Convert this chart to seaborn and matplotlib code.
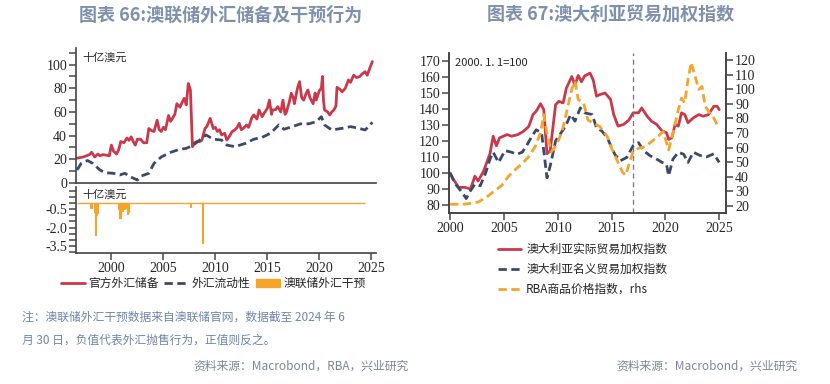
import numpy as np
import pandas as pd
import matplotlib
matplotlib.use("Agg")
import matplotlib.pyplot as plt
from matplotlib.patches import Patch
from matplotlib.lines import Line2D
import seaborn as sns

sns.set_style("ticks")
plt.rcParams['font.family'] = ['Noto Sans CJK SC', 'DejaVu Sans']

# ---------- left chart: RBA FX reserves ----------
res_year = [1996.7, 1997.0, 1997.3, 1997.6, 1997.9, 1998.1, 1998.4, 1998.7, 1998.9, 1999.2,
            1999.5, 1999.8, 2000.0, 2000.2, 2000.5, 2000.7, 2000.9, 2001.2, 2001.5, 2001.7,
            2001.9, 2002.1, 2002.3, 2002.5, 2002.8, 2003.1, 2003.4, 2003.6, 2003.9, 2004.1,
            2004.4, 2004.6, 2004.8, 2005.0, 2005.2, 2005.5, 2005.7, 2005.9, 2006.1, 2006.3,
            2006.6, 2006.8, 2007.0, 2007.2, 2007.4, 2007.6, 2007.8, 2008.0, 2008.2, 2008.5,
            2008.7, 2009.0, 2009.2, 2009.5, 2009.8, 2010.0, 2010.2, 2010.4, 2010.6, 2010.9,
            2011.1, 2011.4, 2011.6, 2011.9, 2012.1, 2012.3, 2012.5, 2012.7, 2013.0, 2013.2,
            2013.5, 2013.7, 2014.0, 2014.2, 2014.5, 2014.7, 2015.0, 2015.2, 2015.4, 2015.5,
            2015.8, 2016.0, 2016.3, 2016.5, 2016.7, 2016.8, 2017.1, 2017.3, 2017.5, 2017.6,
            2017.9, 2018.1, 2018.3, 2018.5, 2018.7, 2018.9, 2019.1, 2019.4, 2019.6, 2019.7,
            2020.0, 2020.2, 2020.3, 2020.4, 2020.5, 2020.8, 2021.0, 2021.2, 2021.4, 2021.6,
            2021.7, 2022.0, 2022.2, 2022.5, 2022.8, 2023.0, 2023.3, 2023.6, 2023.9, 2024.1,
            2024.4, 2024.6, 2024.9, 2025.1]
reserves = [21, 21.5, 22, 23, 24, 26, 22, 24.5, 23, 24,
            23.5, 23, 32, 27, 24.5, 28, 35, 34, 38, 36,
            39, 35, 32, 37, 37, 34, 34, 46, 44, 43.5,
            53, 45, 43.5, 47, 45, 57, 52, 55, 58, 67,
            64, 68, 71.5, 66, 84, 78.6, 30.7, 34, 35, 35,
            36, 46, 48, 54.6, 46, 47, 43.5, 45, 40.6, 42,
            36.3, 40, 43.4, 45, 47, 50.4, 45, 46.2, 49, 47,
            55, 57.5, 54, 61.7, 56, 59, 63, 70, 58, 61.7,
            62, 64.5, 60, 70, 58, 59, 68, 75.8, 72, 67,
            80, 85.6, 72, 70, 75, 78.6, 72, 67, 76, 70,
            78, 80, 90, 70, 61.7, 60, 57.5, 60, 61.7, 65,
            80.8, 79, 77, 80, 87, 85, 91, 89, 90, 92,
            94, 91, 98, 102.5]

liq_year = [1996.7, 1997.1, 1997.7, 1998.2, 1998.9, 1999.4, 2000.2, 2000.8, 2001.3, 2001.8,
            2002.5, 2002.9, 2003.6, 2004.1, 2004.8, 2005.6, 2006.4, 2007.2, 2007.8, 2008.5,
            2009.1, 2009.8, 2010.6, 2011.1, 2011.9, 2012.9, 2013.7, 2014.5, 2015.3, 2016.1,
            2016.6, 2017.4, 2018.2, 2019.0, 2019.7, 2020.2, 2020.5, 2021.2, 2022.2, 2023.0,
            2023.8, 2024.4, 2024.8, 2025.1]
liquidity = [11, 16.6, 19, 16.6, 11, 8.7, 8.2, 6.8, 8.2, 5.4,
             2.5, 6, 8.2, 16.6, 22, 25.6, 28, 29.3, 31.5, 36.3,
             40.6, 37, 36.3, 32, 30.7, 33.5, 37, 38.6, 42, 49,
             45.4, 47.6, 50, 50, 51.8, 56, 49, 44.8, 46.2, 47.6,
             46.2, 44.8, 48, 51.3]

int_year = [1997.96, 1998.04, 1998.38, 1998.46, 1998.54, 1998.63, 2000.67, 2000.75, 2000.83, 2000.92,
            2001.0, 2001.08, 2001.17, 2001.25, 2001.33, 2001.5, 2001.58, 2001.67, 2007.58, 2008.79]
intervention = [-0.2, -0.35, -0.7, -2.6, -1.0, -0.8, -0.5, -0.9, -1.2, -0.6,
                -0.4, -0.6, -0.3, -0.5, -0.3, -0.4, -0.9, -0.7, -0.3, -3.3]
int_span = [1996.7, 2024.4]

# ---------- right chart: trade weighted indices ----------
twi_year = [2000.0, 2000.3, 2000.8, 2001.4, 2001.9, 2002.3, 2002.6, 2003.1, 2003.4, 2003.7,
            2004.0, 2004.3, 2004.6, 2005.3, 2005.7, 2006.3, 2006.8, 2007.3, 2007.7, 2008.0,
            2008.4, 2008.7, 2009.0, 2009.3, 2009.8, 2010.1, 2010.5, 2010.8, 2011.3, 2011.6,
            2011.9, 2012.2, 2012.5, 2013.0, 2013.3, 2013.6, 2013.9, 2014.4, 2014.9, 2015.2,
            2015.6, 2016.1, 2016.6, 2017.0, 2017.5, 2017.8, 2018.3, 2018.7, 2019.2, 2019.7,
            2020.1, 2020.3, 2020.6, 2020.9, 2021.2, 2021.5, 2021.8, 2022.1, 2022.6, 2023.1,
            2023.5, 2024.0, 2024.5, 2024.8, 2025.0]
real_twi = [100, 96, 91, 91, 90, 98, 95, 101, 106.5, 112,
            123, 117, 122, 124, 123, 124, 126, 129, 136.5, 138.6,
            143.3, 139.6, 112, 114, 142.7, 144.8, 143.8, 153, 160.3, 155,
            161, 157, 160.7, 162.4, 158, 148, 149, 150, 146, 136.5,
            129.3, 130.3, 133, 137.6, 137.6, 140.7, 135.5, 132.4, 130.3, 126.2,
            125.2, 121, 122, 130.3, 129.3, 137.6, 136.5, 131.4, 134.5, 136.5,
            135.5, 136.5, 141.7, 141.7, 139.6]

nom_year = [2000.0, 2000.5, 2001.1, 2001.5, 2001.9, 2002.3, 2002.8, 2003.3, 2003.7, 2004.0,
            2004.5, 2005.1, 2005.7, 2006.2, 2006.7, 2007.1, 2007.6, 2008.0, 2008.5, 2009.0,
            2009.3, 2009.8, 2010.2, 2010.7, 2011.2, 2011.6, 2012.1, 2012.5, 2013.2, 2013.6,
            2014.1, 2014.6, 2015.0, 2015.3, 2015.8, 2016.4, 2017.0, 2017.5, 2018.0, 2018.6,
            2019.2, 2019.7, 2020.1, 2020.3, 2020.7, 2021.2, 2021.7, 2022.1, 2022.6, 2023.2,
            2023.8, 2024.5, 2025.0]
nominal_twi = [100, 93, 88, 84, 89, 93, 92, 100, 108.6, 113,
               106.6, 114, 113, 111.7, 113, 117, 123, 127, 125, 97,
               104.5, 120, 124, 129, 136.5, 132.4, 140.7, 137.6, 136.5, 128.3,
               126.2, 122, 116, 111.7, 107.6, 109.7, 117, 119, 113.8, 110.7,
               108.6, 106.6, 105.5, 98.3, 108.6, 113, 111.7, 106.6, 113, 111,
               110, 112, 106.6]

com_year = [2000.0, 2001.1, 2001.7, 2002.6, 2003.4, 2004.2, 2004.8, 2005.4, 2006.0, 2006.7,
            2007.3, 2007.9, 2008.4, 2008.7, 2009.0, 2009.4, 2009.9, 2010.4, 2010.8, 2011.3,
            2011.6, 2011.9, 2012.4, 2012.8, 2013.3, 2013.9, 2014.6, 2015.0, 2015.5, 2016.0,
            2016.3, 2016.6, 2017.0, 2017.5, 2018.1, 2018.7, 2019.3, 2019.8, 2020.3, 2020.7,
            2021.2, 2021.5, 2021.8, 2022.1, 2022.4, 2022.8, 2023.1, 2023.4, 2023.7, 2024.0,
            2024.5, 2024.8, 2025.0]
commodity = [21, 21, 21.4, 22.5, 26, 30.6, 34, 40, 44.5, 49,
             53.7, 60.6, 70, 82.6, 70, 57, 62, 71, 83.7, 100,
             105.7, 93, 90.7, 79, 76.8, 74.5, 67.6, 59.5, 51.4, 43.3,
             41, 48, 57, 59.5, 60.6, 64, 67.6, 71, 58.3, 70,
             86, 94, 90.7, 107, 118.4, 108, 100, 102, 88.4, 85,
             80.3, 75.7, 77.3]
break_year = 2017

RED = '#c9394b'
NAVY = '#3b4a6b'
ORANGE = '#f5a52a'
TITLE_C = '#7f91aa'
NOTE_C = '#6f86a8'
SERIF = 'Liberation Serif'

fig = plt.figure(figsize=(8.3, 3.84), dpi=100)

# left top
ax1 = fig.add_axes([0.0916, 0.5234, 0.3614, 0.3516])
sns.lineplot(x=res_year, y=reserves, ax=ax1, color=RED, lw=2)
sns.lineplot(x=liq_year, y=liquidity, ax=ax1, color=NAVY, lw=2)
ax1.lines[1].set_dashes((3, 1.6))
ax1.set_xlim(1996.6, 2025.45)
ax1.set_ylim(0, 114)
ax1.set_yticks([0, 20, 40, 60, 80, 100])
ax1.set_yticks(np.arange(10, 115, 20), minor=True)
ax1.set_xticks([])
ax1.text(0.02, 0.97, '十亿澳元', transform=ax1.transAxes, fontsize=8, va='top')

# left bottom
ax2 = fig.add_axes([0.0916, 0.3411, 0.3614, 0.1719])
ax2.hlines(0, int_span[0], int_span[1], color=ORANGE, lw=1)
ax2.bar(int_year, intervention, width=0.1, color=ORANGE, edgecolor=ORANGE, linewidth=0.8)
ax2.set_xlim(1996.6, 2025.45)
ax2.set_ylim(-4.1, 1.34)
ax2.set_yticks([-0.5, -2.0, -3.5])
ax2.set_yticklabels(['-0.5', '-2.0', '-3.5'])
ax2.set_yticks(np.arange(-4.0, 1.1, 0.5), minor=True)
ax2.set_xticks([2000, 2005, 2010, 2015, 2020, 2025])
ax2.text(0.02, 0.97, '十亿澳元', transform=ax2.transAxes, fontsize=8, va='top')

for ax in (ax1, ax2):
    sns.despine(ax=ax)
    for s in ('left', 'bottom'):
        ax.spines[s].set_color('#444444')
        ax.spines[s].set_linewidth(1.2)
    ax.tick_params(axis='both', which='both', length=5, width=1.2, color='#555555',
                   labelsize=10, pad=1.5, labelfontfamily=SERIF)

# right
ax3 = fig.add_axes([0.541, 0.4453, 0.3337, 0.4167])
ax4 = ax3.twinx()
sns.lineplot(x=twi_year, y=real_twi, ax=ax3, color=RED, lw=2)
sns.lineplot(x=nom_year, y=nominal_twi, ax=ax3, color=NAVY, lw=2)
ax3.lines[1].set_dashes((3, 1.6))
sns.lineplot(x=com_year, y=commodity, ax=ax4, color=ORANGE, lw=2)
ax4.lines[0].set_dashes((3, 1.6))
ax3.axvline(break_year, color='#777777', lw=0.9, ls=(0, (4, 3)))
ax3.set_xlim(1999.9, 2025.63)
ax3.set_ylim(75, 175)
ax4.set_ylim(15, 125)
ax3.set_yticks(np.arange(80, 171, 10))
ax4.set_yticks(np.arange(20, 121, 10))
ax3.set_xticks([2000, 2005, 2010, 2015, 2020, 2025])
ax3.text(0.02, 0.97, '2000. 1. 1=100', transform=ax3.transAxes, fontsize=8, va='top')
for ax in (ax3, ax4):
    ax.spines['top'].set_visible(False)
    for s in ('left', 'right', 'bottom'):
        ax.spines[s].set_color('#444444')
        ax.spines[s].set_linewidth(1.2)
    ax.tick_params(axis='both', which='both', length=5, width=1.2, color='#555555',
                   labelsize=10, pad=1.5, labelfontfamily=SERIF)

# legends
h_left = [Line2D([], [], color=RED, lw=2),
          Line2D([], [], color=NAVY, lw=2, dashes=(3, 1.6)),
          Patch(facecolor=ORANGE, edgecolor=ORANGE)]
fig.legend(h_left, ['官方外汇储备', '外汇流动性', '澳联储外汇干预'], loc='center',
           bbox_to_anchor=(0.257, 0.262), ncol=3, frameon=False, fontsize=8.5,
           handlelength=2, handletextpad=0.3, columnspacing=0.5,
           borderpad=0.2)
h_right = [Line2D([], [], color=RED, lw=2),
           Line2D([], [], color=NAVY, lw=2, dashes=(3, 1.6)),
           Line2D([], [], color=ORANGE, lw=2, dashes=(3, 1.6))]
fig.legend(h_right, ['澳大利亚实际贸易加权指数', '澳大利亚名义贸易加权指数', 'RBA商品价格指数，rhs'],
           loc='upper left', bbox_to_anchor=(0.587, 0.395), frameon=False, fontsize=8.5,
           handlelength=2, handletextpad=0.4, labelspacing=0.6)

# titles and notes
fig.text(0.266, 0.96, '图表 66:澳联储外汇储备及干预行为', ha='center', va='center',
         fontsize=13, fontweight='bold', color=TITLE_C)
fig.text(0.736, 0.96, '图表 67:澳大利亚贸易加权指数', ha='center', va='center',
         fontsize=13, fontweight='bold', color=TITLE_C)
fig.text(0.027, 0.175, '注：澳联储外汇干预数据来自澳联储官网，数据截至 2024 年 6',
         fontsize=8.5, color=NOTE_C, va='center')
fig.text(0.027, 0.115, '月 30 日，负值代表外汇抛售行为，正值则反之。',
         fontsize=8.5, color=NOTE_C, va='center')
fig.text(0.492, 0.047, '资料来源：Macrobond，RBA，兴业研究', ha='right',
         fontsize=8.5, color='#7a8699', va='center')
fig.text(0.961, 0.047, '资料来源：Macrobond，兴业研究', ha='right',
         fontsize=8.5, color='#7a8699', va='center')

fig.savefig('out.png', dpi=100)
